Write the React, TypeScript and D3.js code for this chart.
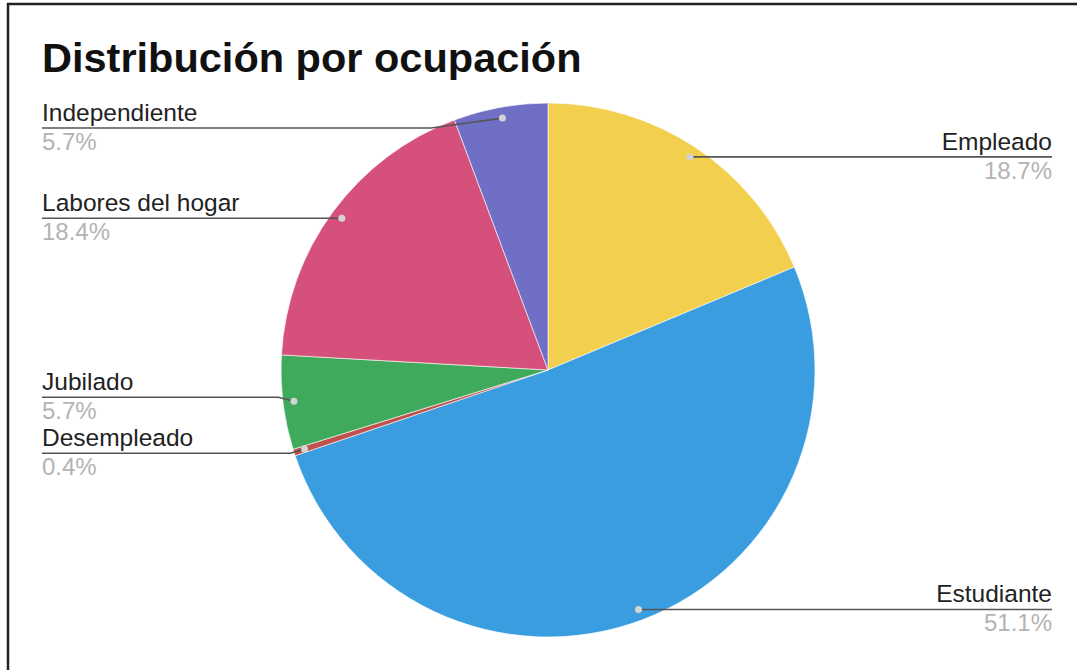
import React from "react";
import * as d3 from "d3";

const categories = ["Empleado", "Estudiante", "Desempleado", "Jubilado", "Labores del hogar", "Independiente"];
const values = [18.7, 51.1, 0.4, 5.7, 18.4, 5.7];
const colors = ["#f3cf4e", "#3a9de0", "#bf514c", "#3fa95c", "#d5517c", "#706fc6"];
const title = "Distribución por ocupación";

const W = 1077;
const H = 670;
const cx = 548;
const cy = 370;
const R = 267;
const dotR = 256;
const leftX = 42;
const rightX = 1052;
const minLeftY = 128;
const gap = 56;

type Lab = { name: string; pct: string; dx: number; dy: number; y: number; side: "L" | "R"; i: number };

function layout(arr: Lab[]) {
  arr.sort((a, b) => a.dy - b.dy);
  for (let iter = 0; iter < 50; iter++) {
    for (let k = 1; k < arr.length; k++) {
      const a = arr[k - 1], b = arr[k];
      const ov = gap - (b.y - a.y);
      if (ov > 0) {
        a.y -= ov / 2;
        b.y += ov / 2;
      }
    }
    if (arr.length && arr[0].side === "L" && arr[0].y < minLeftY) arr[0].y = minLeftY;
    for (let k = 1; k < arr.length; k++) {
      if (arr[k].y - arr[k - 1].y < gap && arr[k - 1].y === minLeftY) arr[k].y = arr[k - 1].y + gap;
    }
  }
}

export default function App() {
  const pie = d3.pie<number>().sort(null).value((d) => d)(values);
  const arc = d3.arc<d3.PieArcDatum<number>>().innerRadius(0).outerRadius(R);

  const labs: Lab[] = pie.map((p, i) => {
    const a = (p.startAngle + p.endAngle) / 2;
    const dx = cx + dotR * Math.sin(a);
    const dy = cy - dotR * Math.cos(a);
    return {
      name: categories[i],
      pct: values[i].toFixed(1) + "%",
      dx,
      dy,
      y: dy,
      side: Math.sin(a) >= 0 ? "R" : "L",
      i,
    };
  });
  layout(labs.filter((l) => l.side === "L"));
  layout(labs.filter((l) => l.side === "R"));

  const font = "'Liberation Sans', Arial, sans-serif";

  return (
    <svg width={W} height={H} style={{ position: "absolute", left: 0, top: 0, background: "#fff" }}>
      <rect x={0} y={0} width={W} height={H} fill="#fff" />
      <line x1={7} y1={4} x2={W} y2={4} stroke="#222" strokeWidth={2.5} />
      <line x1={8} y1={3} x2={8} y2={H} stroke="#222" strokeWidth={2.5} />
      <text x={42} y={72} fontFamily={font} fontWeight="bold" fontSize={41.5} fill="#111">
        {title}
      </text>
      <g transform={`translate(${cx},${cy})`}>
        {pie.map((p, i) => (
          <path key={i} d={arc(p) || ""} fill={colors[i]} stroke="#fff" strokeOpacity={0.6} strokeWidth={1} />
        ))}
      </g>
      {labs.map((l) => {
        const ddy = l.y - cy;
        const ex = Math.sqrt(Math.max(0, R * R - ddy * ddy));
        const edgeX = l.side === "R" ? cx + ex + 4 : cx - ex - 4;
        const endX = l.side === "R" ? rightX : leftX;
        const pts: [number, number][] = [
          [l.dx, l.dy],
          [edgeX, l.y],
          [endX, l.y],
        ];
        return (
          <g key={l.i}>
            <path d={d3.line()(pts) || ""} fill="none" stroke="#555" strokeWidth={1.6} />
            <circle cx={l.dx} cy={l.dy} r={3.5} fill="#d4d4d4" />
            <text
              x={endX}
              y={l.y - 7}
              textAnchor={l.side === "R" ? "end" : "start"}
              fontFamily={font}
              fontSize={24.5}
              fill="#222"
            >
              {l.name}
            </text>
            <text
              x={endX}
              y={l.y + 22}
              textAnchor={l.side === "R" ? "end" : "start"}
              fontFamily={font}
              fontSize={24}
              fill="#b3b3b3"
            >
              {l.pct}
            </text>
          </g>
        );
      })}
    </svg>
  );
}
